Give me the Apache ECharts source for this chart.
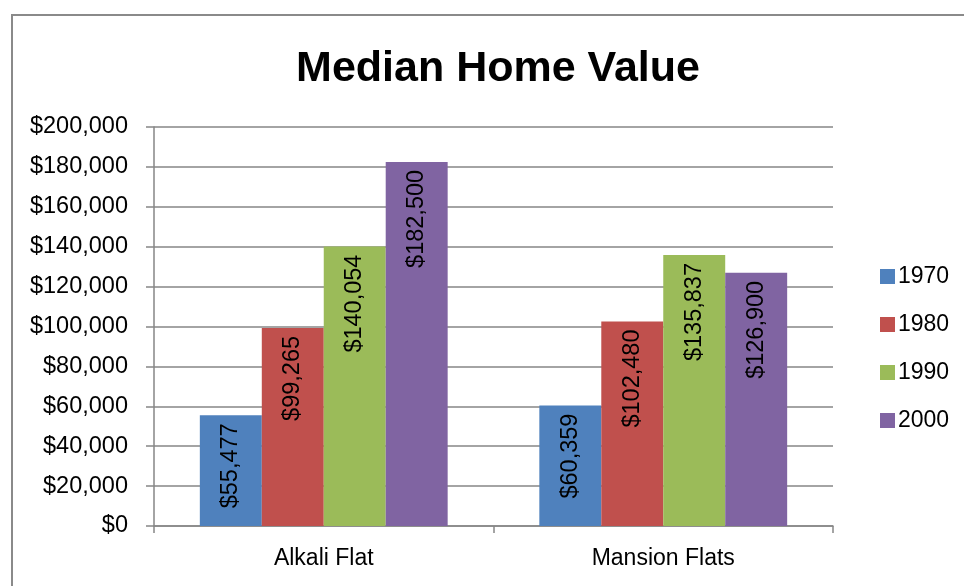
<!DOCTYPE html>
<html>
<head>
<meta charset="utf-8">
<script src="https://cdn.jsdelivr.net/npm/echarts@6/dist/echarts.min.js"></script>
<style>html,body{margin:0;padding:0;background:#fff}#c{width:964px;height:586px}</style>
</head>
<body>
<div id="c"></div>
<script>
var categories = ['Alkali Flat', 'Mansion Flats'];
var seriesNames = ['1970', '1980', '1990', '2000'];
var values1970 = [55477, 60359];
var values1980 = [99265, 102480];
var values1990 = [140054, 135837];
var values2000 = [182500, 126900];
var colors = ['#4F81BD', '#C0504D', '#9BBB59', '#8064A2'];
var yMin = 0, yMax = 200000, yInterval = 20000;

function money(v) {
  return '$' + String(Math.round(v)).replace(/\B(?=(\d{3})+(?!\d))/g, ',');
}
var FONT = '"Liberation Sans", Arial, sans-serif';
var allValues = [values1970, values1980, values1990, values2000];
var series = seriesNames.map(function (name, i) {
  return {
    name: name,
    type: 'bar',
    data: allValues[i],
    barGap: '0%',
    barCategoryGap: '27%',
    itemStyle: { color: colors[i] },
    label: {
      show: true,
      position: 'insideTop',
      rotate: 90,
      align: 'right',
      verticalAlign: 'middle',
      distance: 8,
      color: '#000',
      fontFamily: FONT,
      fontSize: 23.5,
      formatter: function (p) { return money(p.value); }
    }
  };
});

var chart = echarts.init(document.getElementById('c'), null, { renderer: 'canvas' });
chart.setOption({
  animation: false,
  backgroundColor: '#fff',
  color: colors,
  title: {
    text: 'Median Home Value',
    left: 493, top: 43, textAlign: 'center',
    textStyle: { fontFamily: FONT, fontWeight: 'bold', fontSize: 43, color: '#000' }
  },
  graphic: [{
    type: 'rect', silent: true, z: -1,
    shape: { x: 12, y: 15, width: 1200, height: 1200 },
    style: { fill: 'none', stroke: '#8a8a8a', lineWidth: 2 }
  }],
  legend: {
    orient: 'vertical',
    left: 875, top: 260,
    itemWidth: 15, itemHeight: 15, itemGap: 25,
    icon: 'rect',
    textStyle: { fontFamily: FONT, fontSize: 23, color: '#000', lineHeight: 23, padding: [0, 0, 0, -2] },
    data: seriesNames
  },
  grid: { left: 154, right: 131, top: 127, bottom: 60, containLabel: false },
  xAxis: {
    type: 'category',
    data: categories,
    boundaryGap: true,
    axisLine: { lineStyle: { color: '#868686', width: 1.5 } },
    axisTick: { show: true, length: 7, alignWithLabel: false, lineStyle: { color: '#868686', width: 1.5 } },
    axisLabel: { margin: 21, color: '#000', fontFamily: FONT, fontSize: 23 }
  },
  yAxis: {
    type: 'value',
    min: yMin, max: yMax, interval: yInterval,
    axisLine: { show: true, lineStyle: { color: '#868686', width: 1.5 } },
    axisTick: { show: true, length: 8, lineStyle: { color: '#868686', width: 1.5 } },
    splitLine: { show: true, lineStyle: { color: '#868686', width: 1.5 } },
    axisLabel: { margin: 26, color: '#000', fontFamily: FONT, fontSize: 23.5, formatter: money }
  },
  series: series
});
</script>
</body>
</html>
